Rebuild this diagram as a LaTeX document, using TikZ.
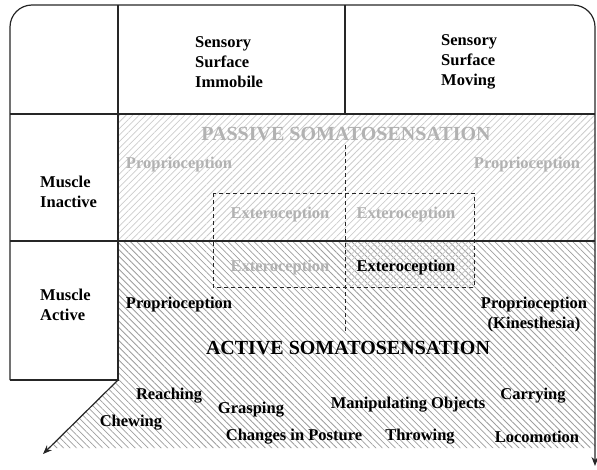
\documentclass[tikz,border=0pt]{standalone}
\usepackage{fontspec}
\setmainfont{Liberation Serif}
\usetikzlibrary{patterns.meta,arrows.meta}
\definecolor{passivegray}{gray}{0.7}
\definecolor{hatchlight}{gray}{0.8}
\definecolor{hatchdark}{gray}{0.62}
\tikzset{
  cell/.style={font=\bfseries\fontsize{16.5}{20}\selectfont,align=center,inner sep=0pt},
  rowhead/.style={cell,align=left,anchor=west},
  passive/.style={cell,text=passivegray},
  heading/.style={font=\bfseries\fontsize{20}{24}\selectfont,inner sep=0pt},
  frame/.style={line width=1.2pt,draw=black!85},
  split/.style={line width=1pt,draw=black!85,dash pattern=on 4pt off 3pt},
  hatchne/.style={pattern={Lines[angle=45,distance=4.6pt,line width=0.8pt]},pattern color=hatchlight},
  hatchnw/.style={pattern={Lines[angle=-45,distance=4.6pt,line width=0.8pt]},pattern color=hatchdark},
}
\begin{document}
\begin{tikzpicture}[x=1pt,y=-1pt]
  \useasboundingbox (0,0) rectangle (597,469);

  \coordinate (tl) at (10,5);
  \coordinate (tr) at (595,5);
  \coordinate (br) at (595,466);
  \coordinate (bl) at (10,380);
  \coordinate (bc) at (118,380);
  \coordinate (tc) at (118,5);
  \coordinate (tm) at (345,5);
  \coordinate (mm) at (345,114);
  \coordinate (aw) at (43,454);

  \fill[hatchne] (118,114) rectangle (595,241);
  \fill[hatchnw] (118,241) -- (595,241) -- (595,448) -- (48,448) -- (bc) -- cycle;
  \fill[hatchne] (345,241) rectangle (474,287);

  \draw[frame,rounded corners=22pt,-{Stealth[length=9pt,width=7pt]}] (bl) -- (tl) -- (tr) -- (br);
  \draw[frame] (bl) -- (bc) -- (tc);
  \draw[frame] (tm) -- (mm);
  \draw[frame] (10,114) -- (595,114);
  \draw[frame] (10,241) -- (595,241);
  \draw[frame,-{Stealth[length=9pt,width=7pt]}] (bc) -- (aw);

  \draw[split] (213,193) rectangle (474,287);
  \draw[split] (345,145) -- (345,333);

  \node[rowhead] (n1) at (195,62) {Sensory\\Surface\\Immobile};
  \node[rowhead] (n2) at (441,62) {Sensory\\Surface\\Moving};
  \node[rowhead] (n3) at (40,192) {Muscle\\Inactive};
  \node[rowhead] (n4) at (40,305) {Muscle\\Active};

  \node[heading,text=passivegray] (p0) at (346,134) {PASSIVE SOMATOSENSATION};
  \node[passive] (p1) at (179,165) {Proprioception};
  \node[passive] (p2) at (527,165) {Proprioception};
  \node[passive] (e1) at (280,215) {Exteroception};
  \node[passive] (e2) at (406,215) {Exteroception};
  \node[passive] (e3) at (280,268) {Exteroception};
  \node[cell] (e4) at (406,268) {Exteroception};

  \node[cell] (a1) at (179,305) {Proprioception};
  \node[cell] (a2) at (534,315) {Proprioception\\(Kinesthesia)};
  \node[heading] (a0) at (348,348) {ACTIVE SOMATOSENSATION};

  \node[cell] (m1) at (169,396) {Reaching};
  \node[cell] (m2) at (131,423) {Chewing};
  \node[cell] (m3) at (251,410) {Grasping};
  \node[cell] (m4) at (294,437) {Changes in Posture};
  \node[cell] (m5) at (408,405) {Manipulating Objects};
  \node[cell] (m6) at (420,437) {Throwing};
  \node[cell] (m7) at (533,396) {Carrying};
  \node[cell] (m8) at (537,437) {Locomotion};
\end{tikzpicture}
\end{document}
